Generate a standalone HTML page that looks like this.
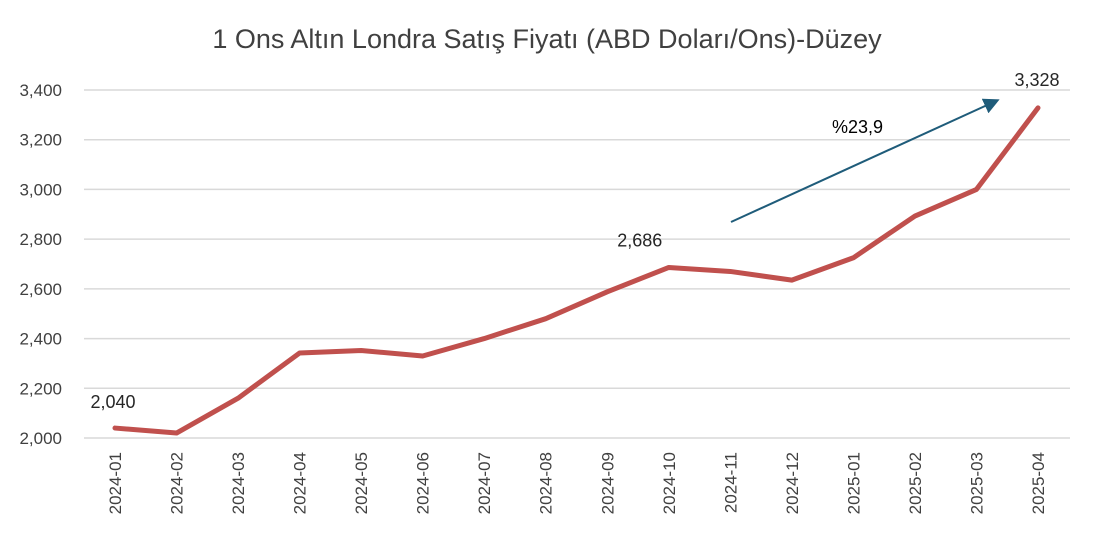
<!DOCTYPE html>
<html><head><meta charset="utf-8"><style>
body{margin:0;background:#fff;}
svg text{font-family:"Liberation Sans",sans-serif;}
</style></head><body>
<svg id="chart" width="1094" height="541" xmlns="http://www.w3.org/2000/svg">
<text x="547" y="48" text-anchor="middle" font-size="27" fill="#404040">1 Ons Altın Londra Satış Fiyatı (ABD Doları/Ons)-Düzey</text>
<g id="grid"></g><g id="yticks"></g><g id="xticks"></g>
<polyline id="line" fill="none" stroke="#c0504d" stroke-width="5" stroke-linejoin="round" stroke-linecap="round"/>
<g id="labels"></g>
<defs><marker id="ah" markerWidth="8" markerHeight="8" refX="6" refY="4" orient="auto"><path d="M0,0 L8,4 L0,8 z" fill="#1f5c7a"/></marker></defs>
<line x1="731" y1="222" x2="996" y2="101" stroke="#1f5c7a" stroke-width="2" marker-end="url(#ah)"/>
<text x="832" y="133" font-size="18" fill="#000">%23,9</text>
</svg>
<script>
const categories=["2024-01","2024-02","2024-03","2024-04","2024-05","2024-06","2024-07","2024-08","2024-09","2024-10","2024-11","2024-12","2025-01","2025-02","2025-03","2025-04"];
const values=[2040,2020,2160,2342,2352,2330,2400,2480,2588,2686,2670,2635,2725,2893,3000,3328];
const yTicks=[2000,2200,2400,2600,2800,3000,3200,3400];
const labelIdx=[0,9,15];
const ns="http://www.w3.org/2000/svg";
const svg=document.getElementById('chart');
const x0=115,x1=1038,yb=438,yt=90,vmin=2000,vmax=3400;
const xs=i=>x0+(x1-x0)*i/(categories.length-1);
const ys=v=>yb-(v-vmin)/(vmax-vmin)*(yb-yt);
function mk(t,a,p,txt){const e=document.createElementNS(ns,t);for(const k in a)e.setAttribute(k,a[k]);if(txt!==undefined)e.textContent=txt;p.appendChild(e);return e;}
const g=document.getElementById('grid'),yt_=document.getElementById('yticks'),xt=document.getElementById('xticks'),lb=document.getElementById('labels');
yTicks.forEach(v=>{
 const l=mk('line',{x1:84,x2:1070,y1:ys(v),y2:ys(v),stroke:'#d9d9d9','stroke-width':1.5},g);
 
 
 const t=mk('text',{x:62,y:ys(v)+6,'text-anchor':'end','font-size':17,fill:'#404040'},yt_,v.toLocaleString('en-US'));
 
 
});
categories.forEach((c,i)=>{
 const t=mk('text',{x:0,y:0,'text-anchor':'end','font-size':17,fill:'#404040',transform:`translate(${xs(i)+6},452) rotate(-90)`},xt,c);
 
 
});
document.getElementById('line').setAttribute('points',values.map((v,i)=>xs(i)+','+ys(v)).join(' '));
labelIdx.forEach(i=>{
 const t=mk('text',{x:xs(i)-(i===15?-12:(i===0?0:0)),y:ys(values[i])-(i===15?22:(i===0?20:21)),'text-anchor':'middle','font-size':18,fill:'#262626'},lb,values[i].toLocaleString('en-US'));
 if(i===0)t.setAttribute('x',xs(i)-2);
 if(i===9)t.setAttribute('x',xs(i)-29);
 if(i===15)t.setAttribute('x',xs(i)-1);
 
 
});
</script>
</body></html>
